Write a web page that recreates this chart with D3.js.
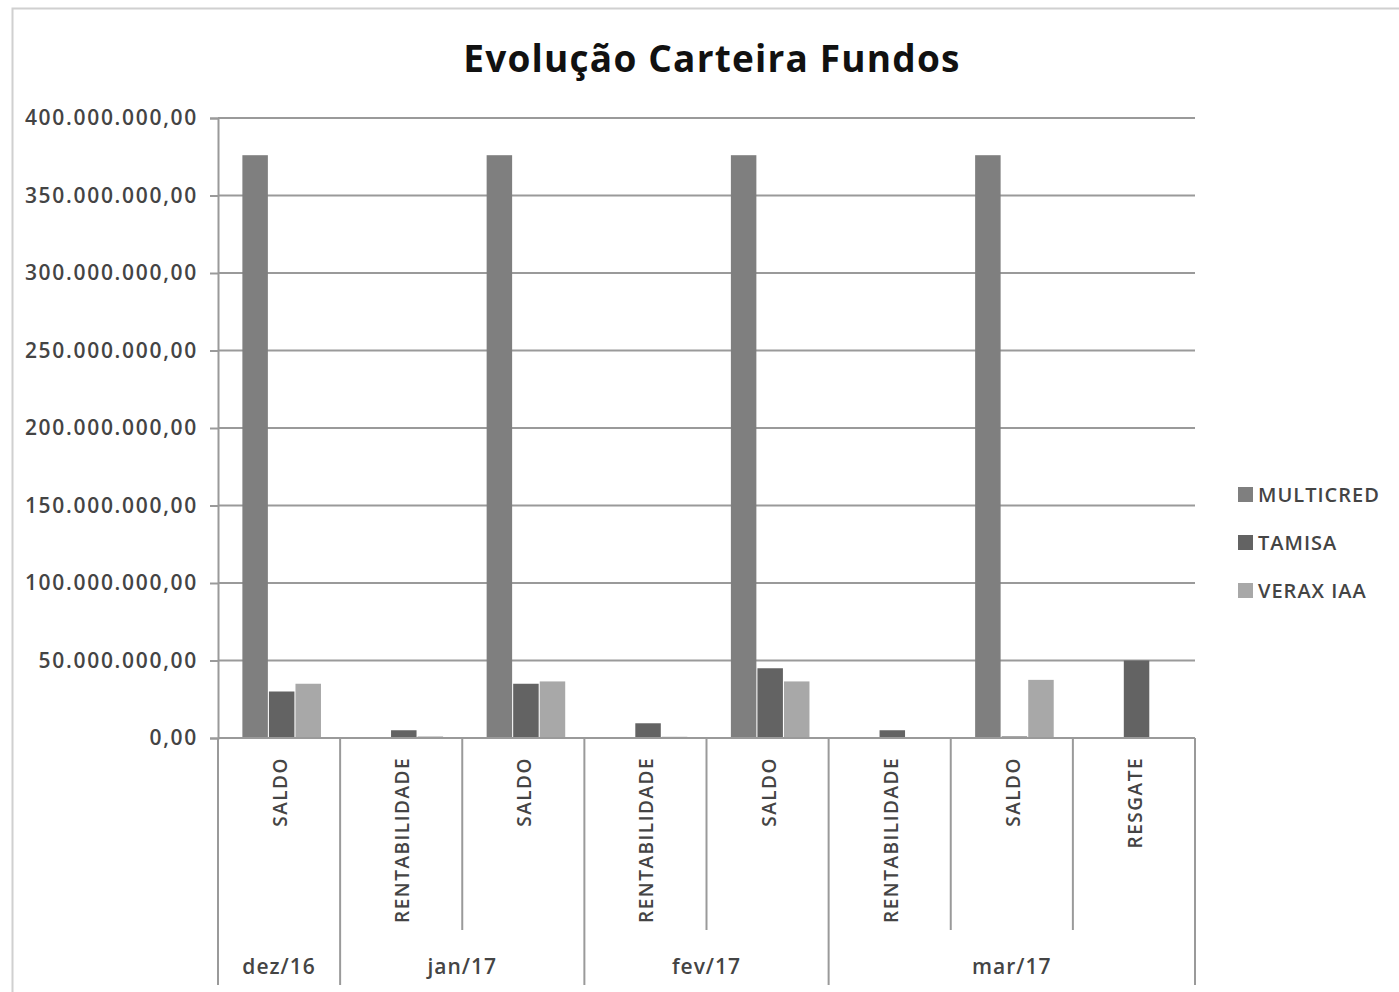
<!DOCTYPE html>
<html>
<head>
<meta charset="utf-8">
<script src="https://cdn.jsdelivr.net/npm/d3@7"></script>
<style>
  body { margin: 0; background: #fff; }
  text { font-family: "Open Sans", sans-serif; fill: #404040; }
</style>
</head>
<body>
<svg id="chart" width="1399" height="992"></svg>
<script>
// categories (inner label + month group)
var categories = ["SALDO", "RENTABILIDADE", "SALDO", "RENTABILIDADE", "SALDO", "RENTABILIDADE", "SALDO", "RESGATE"];
var months = ["dez/16", "jan/17", "jan/17", "fev/17", "fev/17", "mar/17", "mar/17", "mar/17"];
var monthGroups = ["dez/16", "jan/17", "fev/17", "mar/17"];

var seriesNames = ["MULTICRED", "TAMISA", "VERAX IAA"];
var multicred = [376000000, 0, 376000000, 0, 376000000, 0, 376000000, 0];
var tamisa = [30000000, 5000000, 35000000, 9500000, 45000000, 5000000, 1000000, 50000000];
var verax = [35000000, 1000000, 36500000, 800000, 36500000, 600000, 37500000, 0];
var yTicks = [0, 50000000, 100000000, 150000000, 200000000, 250000000, 300000000, 350000000, 400000000];

var colors = ["#7f7f7f", "#636363", "#a8a8a8"];
var seriesValues = [multicred, tamisa, verax];

var svg = d3.select("svg#chart");
var margin = { left: 218, right: 1195, top: 118, bottom: 738 };

var locale = d3.formatLocale({ decimal: ",", thousands: ".", grouping: [3], currency: ["R$", ""] });
var fmt = locale.format(",.2f");

// outer frame
svg.append("rect")
  .attr("x", 12.5).attr("y", 8.5)
  .attr("width", 1400).attr("height", 1000)
  .attr("fill", "none")
  .attr("stroke", "#d0d0d0")
  .attr("stroke-width", 2);

var x = d3.scaleBand()
  .domain(d3.range(categories.length))
  .range([margin.left, margin.right]);

var xInner = d3.scaleBand()
  .domain(seriesNames)
  .range([0, x.bandwidth()])
  .paddingInner(0.04)
  .paddingOuter(0.82)
  .align(0.56);

var y = d3.scaleLinear()
  .domain([0, 400000000])
  .range([margin.bottom, margin.top]);

// title
svg.append("text")
  .attr("x", 712)
  .attr("y", 72)
  .attr("text-anchor", "middle")
  .style("font-size", "37px")
  .style("font-weight", "bold")
  .style("letter-spacing", "1.2px")
  .style("fill", "#111")
  .text("Evolução Carteira Fundos");

// gridlines + y axis
var yAxis = d3.axisLeft(y)
  .tickValues(yTicks)
  .tickSize(8)
  .tickFormat(fmt);

var gy = svg.append("g")
  .attr("transform", "translate(" + margin.left + ",0)")
  .call(yAxis);
gy.select(".domain").attr("stroke", "#9a9a9a").attr("stroke-width", 2);
gy.selectAll(".tick line").attr("stroke", "#9a9a9a").attr("stroke-width", 2);
gy.selectAll(".tick text")
  .attr("x", -20)
  .style("font-size", "21px")
  .style("font-weight", "600")
  .style("letter-spacing", "1.7px")
  .style("fill", "#444");

svg.append("g")
  .selectAll("line")
  .data(yTicks.filter(function (d) { return d > 0; }))
  .join("line")
  .attr("x1", margin.left)
  .attr("x2", margin.right)
  .attr("y1", function (d) { return y(d); })
  .attr("y2", function (d) { return y(d); })
  .attr("stroke", "#9a9a9a")
  .attr("stroke-width", 2);

// bars
var barData = [];
categories.forEach(function (c, i) {
  seriesNames.forEach(function (s, j) {
    barData.push({ cat: i, series: s, value: seriesValues[j][i], color: colors[j] });
  });
});

svg.append("g")
  .selectAll("rect")
  .data(barData)
  .join("rect")
  .attr("x", function (d) { return x(d.cat) + xInner(d.series); })
  .attr("y", function (d) { return y(d.value); })
  .attr("width", xInner.bandwidth())
  .attr("height", function (d) { return y(0) - y(d.value); })
  .attr("fill", function (d) { return d.color; });

// x axis baseline
svg.append("line")
  .attr("x1", margin.left).attr("x2", margin.right)
  .attr("y1", y(0)).attr("y2", y(0))
  .attr("stroke", "#9a9a9a").attr("stroke-width", 2);

// category separators
var bounds = d3.range(categories.length + 1);
svg.append("g")
  .selectAll("line")
  .data(bounds)
  .join("line")
  .attr("x1", function (i) { return i < categories.length ? x(i) : margin.right; })
  .attr("x2", function (i) { return i < categories.length ? x(i) : margin.right; })
  .attr("y1", y(0))
  .attr("y2", function (i) {
    var isGroupEdge = i === 0 || i === categories.length || months[i] !== months[i - 1];
    return isGroupEdge ? 985 : 930;
  })
  .attr("stroke", "#9a9a9a")
  .attr("stroke-width", 2);

// inner category labels (rotated)
svg.append("g")
  .selectAll("text")
  .data(categories)
  .join("text")
  .attr("transform", function (d, i) {
    return "translate(" + (x(i) + x.bandwidth() / 2 + 8) + ",757) rotate(-90)";
  })
  .attr("text-anchor", "end")
  .style("font-size", "19px")
  .style("font-weight", "600")
  .style("letter-spacing", "1.5px")
  .style("fill", "#444")
  .text(function (d) { return d; });

// month labels
svg.append("g")
  .selectAll("text")
  .data(monthGroups)
  .join("text")
  .attr("x", function (m) {
    var idx = d3.range(months.length).filter(function (i) { return months[i] === m; });
    return (x(idx[0]) + x(idx[idx.length - 1]) + x.bandwidth()) / 2;
  })
  .attr("y", 974)
  .attr("text-anchor", "middle")
  .style("font-size", "21px")
  .style("font-weight", "600")
  .style("letter-spacing", "1px")
  .style("fill", "#444")
  .text(function (d) { return d; });

// legend
var legend = svg.append("g")
  .selectAll("g")
  .data(seriesNames)
  .join("g")
  .attr("transform", function (d, i) { return "translate(1238," + (487 + i * 48) + ")"; });

legend.append("rect")
  .attr("width", 15)
  .attr("height", 15)
  .attr("fill", function (d, i) { return colors[i]; });

legend.append("text")
  .attr("x", 20)
  .attr("y", 15)
  .style("font-size", "20px")
  .style("font-weight", "600")
  .style("letter-spacing", "1px")
  .style("fill", "#444")
  .text(function (d) { return d; });
</script>
</body>
</html>
